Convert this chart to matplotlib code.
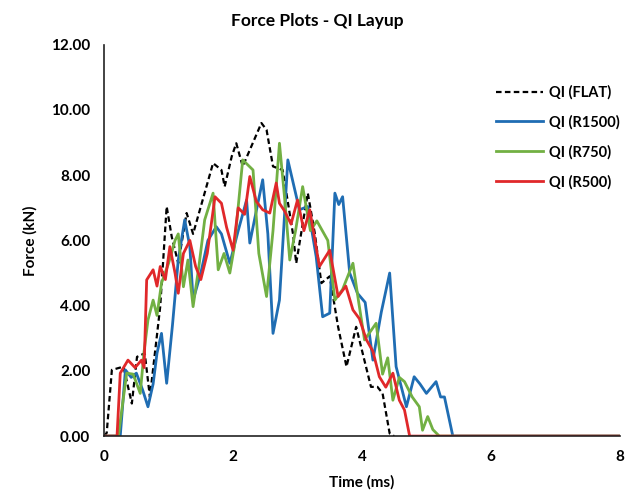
import numpy as np
import matplotlib
matplotlib.use('Agg')
import matplotlib.pyplot as plt
from matplotlib.ticker import FormatStrFormatter

plt.rcParams['font.family'] = ['Lato', 'DejaVu Sans']
plt.rcParams['font.weight'] = 'bold'

# QI (FLAT) - time (ms), force (kN)
t_flat = [0.0, 0.04, 0.12, 0.3, 0.43, 0.51, 0.63, 0.71, 0.87, 0.97, 1.05, 1.15, 1.28, 1.38,
          1.69, 1.82, 1.87, 1.98, 2.05, 2.15, 2.44, 2.52, 2.62, 2.77, 2.93, 2.98, 3.16, 3.27,
          3.37, 3.5, 3.63, 3.76, 3.91, 4.14, 4.24, 4.32, 4.43, 4.5]
f_flat = [0.0, 0.1, 2.03, 2.13, 1.0, 2.43, 2.54, 1.2, 3.97, 7.04, 6.1, 5.3, 6.84, 6.2,
          8.37, 8.16, 7.65, 8.58, 8.98, 8.27, 9.6, 9.39, 8.27, 8.16, 6.2, 5.3, 7.45, 6.2,
          4.69, 4.9, 3.35, 2.13, 3.35, 1.51, 1.51, 1.31, 0.08, 0.0]

# QI (R1500)
t_r1500 = [0.0, 0.25, 0.33, 0.42, 0.5, 0.6, 0.68, 0.76, 0.82, 0.89, 0.97, 1.06, 1.15, 1.25,
           1.33, 1.38, 1.5, 1.61, 1.74, 1.82, 1.95, 2.08, 2.21, 2.26, 2.36, 2.46, 2.54, 2.62,
           2.72, 2.85, 3.03, 3.16, 3.29, 3.39, 3.5, 3.58, 3.64, 3.7, 3.81, 3.93, 4.05, 4.17,
           4.3, 4.43, 4.53, 4.69, 4.81, 4.9, 5.0, 5.15, 5.22, 5.28, 5.41, 8.0]
f_r1500 = [0.0, 0.0, 2.03, 1.8, 1.93, 1.4, 0.9, 1.6, 2.54, 3.15, 1.62, 3.4, 5.4, 6.63,
           5.81, 4.17, 5.0, 6.0, 6.42, 6.2, 5.3, 6.3, 7.24, 5.92, 6.9, 7.86, 6.2, 3.15,
           4.17, 8.47, 6.94, 7.04, 5.5, 3.66, 3.77, 7.45, 7.1, 7.34, 5.0, 4.38, 4.1, 2.33,
           3.8, 5.0, 2.13, 0.9, 1.82, 1.6, 1.31, 1.67, 1.2, 1.2, 0.0, 0.0]

# QI (R750)
t_r750 = [0.0, 0.22, 0.35, 0.45, 0.56, 0.62, 0.68, 0.76, 0.82, 0.89, 1.0, 1.1, 1.15, 1.23,
          1.3, 1.38, 1.47, 1.56, 1.69, 1.77, 1.86, 1.95, 2.02, 2.15, 2.31, 2.4, 2.52, 2.62,
          2.72, 2.8, 2.88, 2.97, 3.08, 3.2, 3.3, 3.47, 3.58, 3.7, 3.86, 3.95, 4.04, 4.22,
          4.32, 4.4, 4.48, 4.58, 4.66, 4.78, 4.89, 4.94, 5.02, 5.1, 5.2, 8.0]
f_r750 = [0.0, 0.0, 1.93, 1.9, 1.31, 2.6, 3.56, 4.17, 3.7, 4.69, 5.3, 6.0, 6.2, 4.58,
          5.4, 3.97, 5.2, 6.63, 7.45, 5.1, 5.6, 5.0, 5.8, 8.47, 8.16, 5.6, 4.28, 6.3,
          8.98, 7.3, 5.4, 6.3, 7.65, 6.3, 6.6, 6.0, 4.17, 4.5, 5.3, 4.1, 2.95, 3.46,
          1.9, 2.4, 1.1, 1.8, 1.67, 1.2, 0.9, 0.18, 0.6, 0.2, 0.0, 0.0]

# QI (R500)
t_r500 = [0.0, 0.2, 0.25, 0.37, 0.48, 0.58, 0.62, 0.66, 0.76, 0.82, 0.87, 0.95, 1.02, 1.1,
          1.15, 1.23, 1.33, 1.42, 1.5, 1.6, 1.72, 1.82, 1.9, 2.0, 2.08, 2.18, 2.26, 2.36,
          2.46, 2.57, 2.67, 2.72, 2.8, 2.9, 3.0, 3.1, 3.19, 3.34, 3.5, 3.63, 3.75, 3.86,
          3.96, 4.07, 4.17, 4.27, 4.37, 4.48, 4.58, 4.66, 4.74, 8.0]
f_r500 = [0.0, 0.0, 1.93, 2.33, 2.1, 2.33, 2.1, 4.79, 5.1, 4.6, 5.2, 4.8, 5.81, 5.0,
          4.38, 5.6, 6.0, 5.2, 4.8, 5.6, 7.34, 7.14, 6.4, 5.7, 7.0, 6.8, 7.96, 7.2,
          6.94, 6.84, 7.76, 7.14, 6.9, 6.5, 7.24, 6.3, 6.94, 5.2, 5.7, 4.28, 4.6, 3.87,
          3.6, 2.95, 2.6, 1.82, 1.5, 1.93, 1.1, 0.8, 0.0, 0.0]

labels = ['QI (FLAT)', 'QI (R1500)', 'QI (R750)', 'QI (R500)']

fig = plt.figure(figsize=(6.35, 5.03), dpi=100)
ax = fig.add_axes([0.164, 0.133, 0.812, 0.778])

ax.plot(t_flat, f_flat, color='black', linestyle=(0, (2.5, 1.5)), linewidth=1.6, label=labels[0])
ax.plot(t_r1500, f_r1500, color='#1f6db3', linewidth=2.0, label=labels[1])
ax.plot(t_r750, f_r750, color='#72b043', linewidth=2.0, label=labels[2])
ax.plot(t_r500, f_r500, color='#e0282a', linewidth=2.0, label=labels[3])

ax.set_xlim(0, 8)
ax.set_ylim(0, 12)
ax.set_xticks([0, 2, 4, 6, 8])
ax.set_yticks(np.arange(0, 12.01, 2))
ax.yaxis.set_major_formatter(FormatStrFormatter('%.2f'))
ax.tick_params(length=0, labelsize=11, pad=10)
for lbl in ax.get_xticklabels() + ax.get_yticklabels():
    lbl.set_fontweight('bold')

for s in ['top', 'right']:
    ax.spines[s].set_visible(False)
ax.spines['left'].set_color('#222222')
ax.spines['bottom'].set_color('#222222')
ax.spines['left'].set_linewidth(1.2)
ax.spines['bottom'].set_linewidth(1.2)

ax.set_xlabel('Time (ms)', fontsize=11, fontweight='bold', labelpad=8)
ax.set_ylabel('Force (kN)', fontsize=11, fontweight='bold', labelpad=10)
fig.suptitle('Force Plots - QI Layup', fontsize=12.5, fontweight='bold', x=0.5, y=0.975)

leg = ax.legend(loc='upper left', bbox_to_anchor=(0.735, 0.93), frameon=False,
                fontsize=10.5, handlelength=3.2, handletextpad=0.4, labelspacing=1.05)
for t in leg.get_texts():
    t.set_fontweight('bold')

fig.savefig('out.png', dpi=100)
